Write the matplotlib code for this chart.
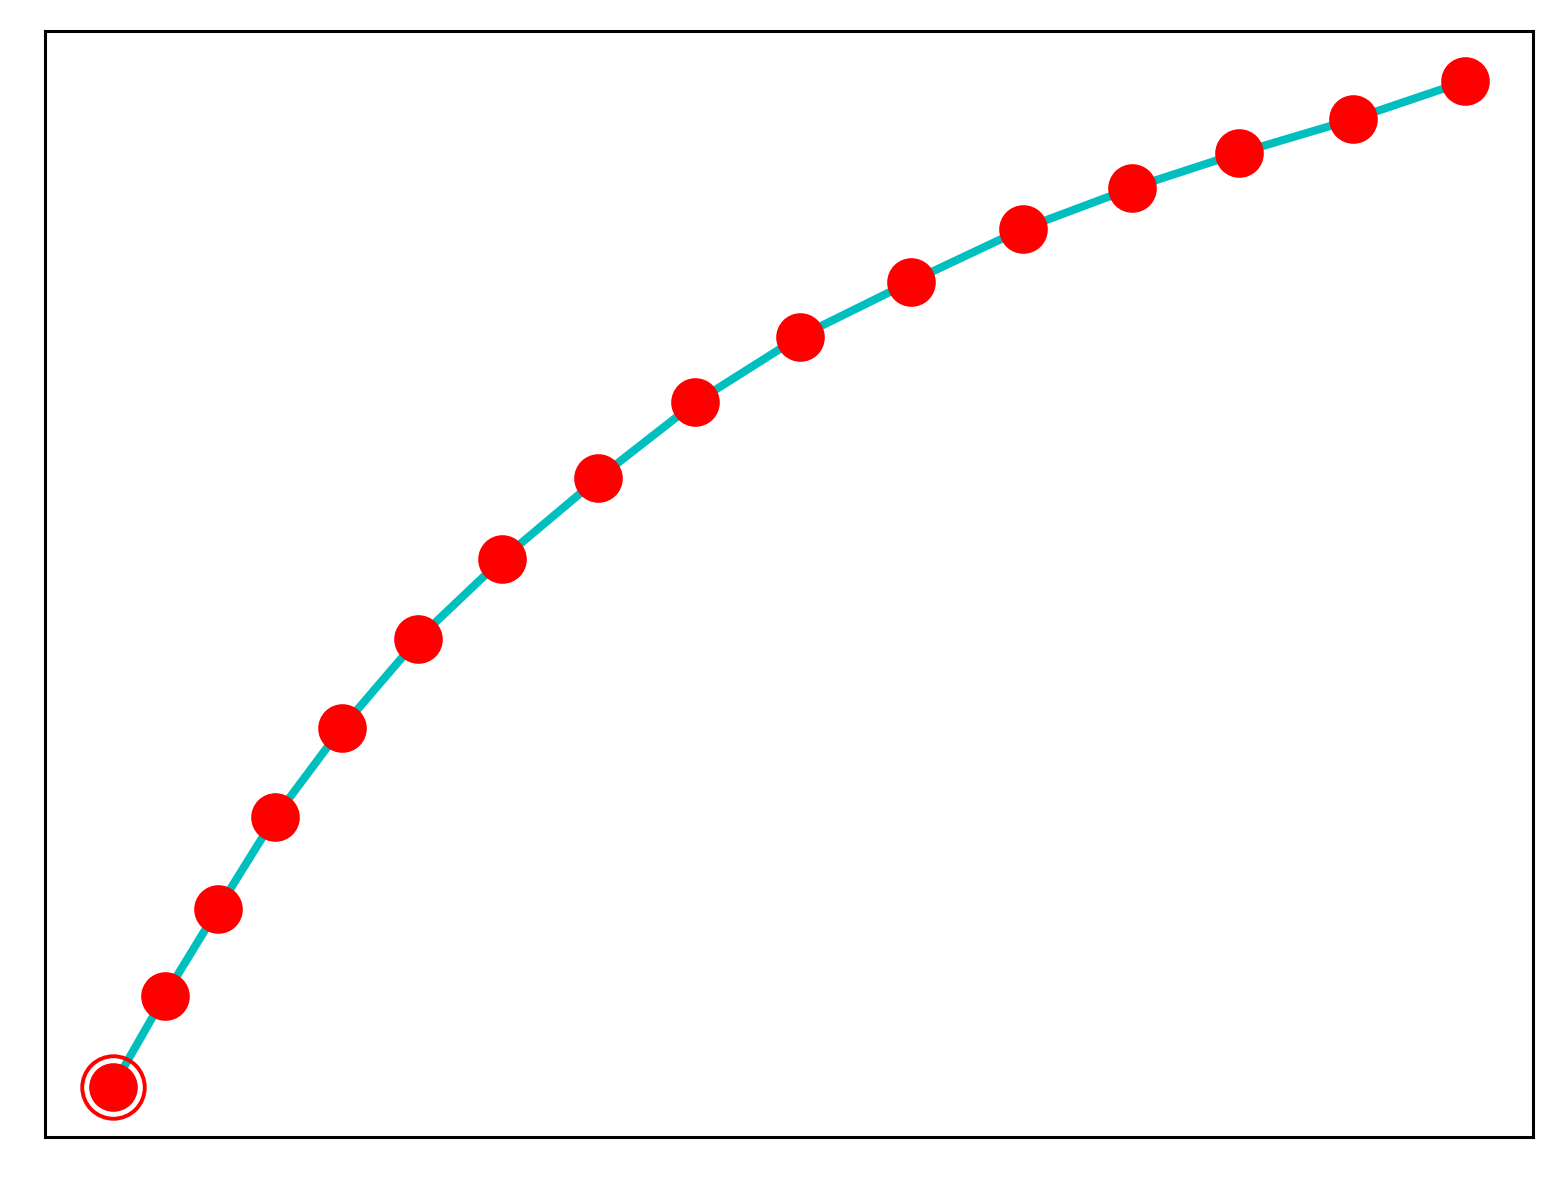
import matplotlib
matplotlib.use("Agg")
import matplotlib.pyplot as plt

# values (arbitrary units)
x_vals = [0.0, 0.52, 1.05, 1.62, 2.29, 3.05, 3.89, 4.85, 5.82, 6.86,
          7.97, 9.09, 10.18, 11.25, 12.39, 13.51]
y_vals = [0.95, 1.86, 2.73, 3.65, 4.55, 5.44, 6.24, 7.05, 7.81, 8.47,
          9.02, 9.55, 9.96, 10.31, 10.65, 11.03]

fig = plt.figure(figsize=(7.81, 5.915), dpi=200)
ax = fig.add_axes([45/1562, 1-1137/1183, (1533-45)/1562, (1137-31)/1183])
ax.plot(x_vals, y_vals, color='c', linewidth=2.9, zorder=1)
ax.plot(x_vals, y_vals, 'o', color='red', markersize=16.5, linestyle='none', zorder=2)
ax.plot(x_vals[:1], y_vals[:1], 'o', markerfacecolor='none', markeredgecolor='red',
        markeredgewidth=1.4, markersize=22.5, zorder=3)
ax.set_xticks([])
ax.set_yticks([])
for s in ax.spines.values():
    s.set_linewidth(1.1)
fig.savefig("out.png", dpi=200)
